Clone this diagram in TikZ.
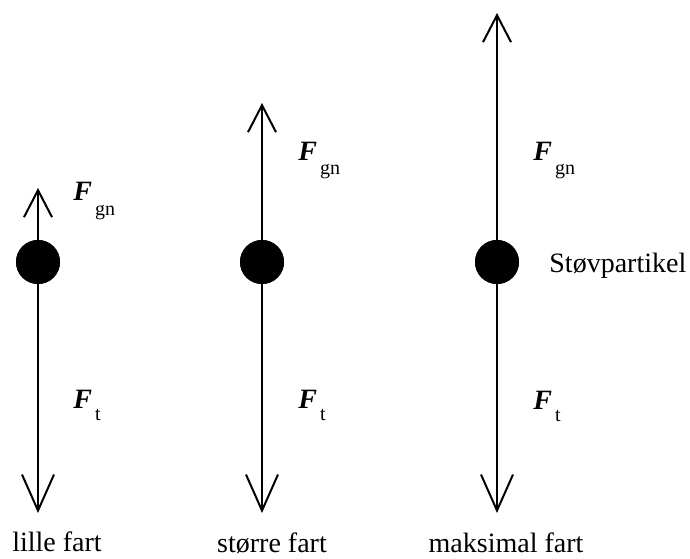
\documentclass[tikz,border=0pt]{standalone}
\usepackage{fontspec}
\setmainfont{Liberation Serif}
\usetikzlibrary{arrows.meta}
\newcommand{\Fsub}[2]{\textbf{\textit{F}}\kern1.5pt\raisebox{-#2}{\fontsize{10}{10}\selectfont #1}}
\tikzset{
  ball/.style={circle, fill=black, minimum size=22pt, inner sep=0pt},
  upforce/.style={line width=1pt, -{Straight Barb[length=13.5pt,width=14pt,line width=1pt]}},
  downforce/.style={line width=1pt, -{Straight Barb[length=18pt,width=16pt,line width=1pt]}},
  lab/.style={anchor=base west, inner sep=0pt, font=\fontsize{14}{16}\selectfont},
  caption/.style={anchor=base, inner sep=0pt, font=\fontsize{14}{16}\selectfont}
}
\begin{document}
\begin{tikzpicture}[x=0.5pt,y=-0.5pt]
\useasboundingbox (0,0) rectangle (690,558);
% column 1
\node[ball] (b1) at (38,262) {};
\coordinate (u1) at (38,188);
\coordinate (d1) at (38,513);
\draw[upforce] (b1.center) -- (u1);
\draw[downforce] (b1.center) -- (d1);
\node[ball] at (b1) {};
\node[lab] (fg1) at (73,200) {\Fsub{gn}{7.5pt}};
\node[lab] (ft1) at (73,408) {\Fsub{t}{6pt}};
\node[caption] (c1) at (57,551) {lille fart};
% column 2
\node[ball] (b2) at (262,262) {};
\coordinate (u2) at (262,103);
\coordinate (d2) at (262,513);
\draw[upforce] (b2.center) -- (u2);
\draw[downforce] (b2.center) -- (d2);
\node[ball] at (b2) {};
\node[lab] (fg2) at (298,160) {\Fsub{gn}{7pt}};
\node[lab] (ft2) at (298,408) {\Fsub{t}{6pt}};
\node[caption] (c2) at (272,552) {større fart};
% column 3
\node[ball] (b3) at (497,262) {};
\coordinate (u3) at (497,13);
\coordinate (d3) at (497,513);
\draw[upforce] (b3.center) -- (u3);
\draw[downforce] (b3.center) -- (d3);
\node[ball] at (b3) {};
\node[lab] (fg3) at (533,160) {\Fsub{gn}{7pt}};
\node[lab] (ft3) at (533,409) {\Fsub{t}{6pt}};
\node[lab] (sp) at (549,272) {Støvpartikel};
\node[caption] (c3) at (506,552) {maksimal fart};
\end{tikzpicture}
\end{document}
